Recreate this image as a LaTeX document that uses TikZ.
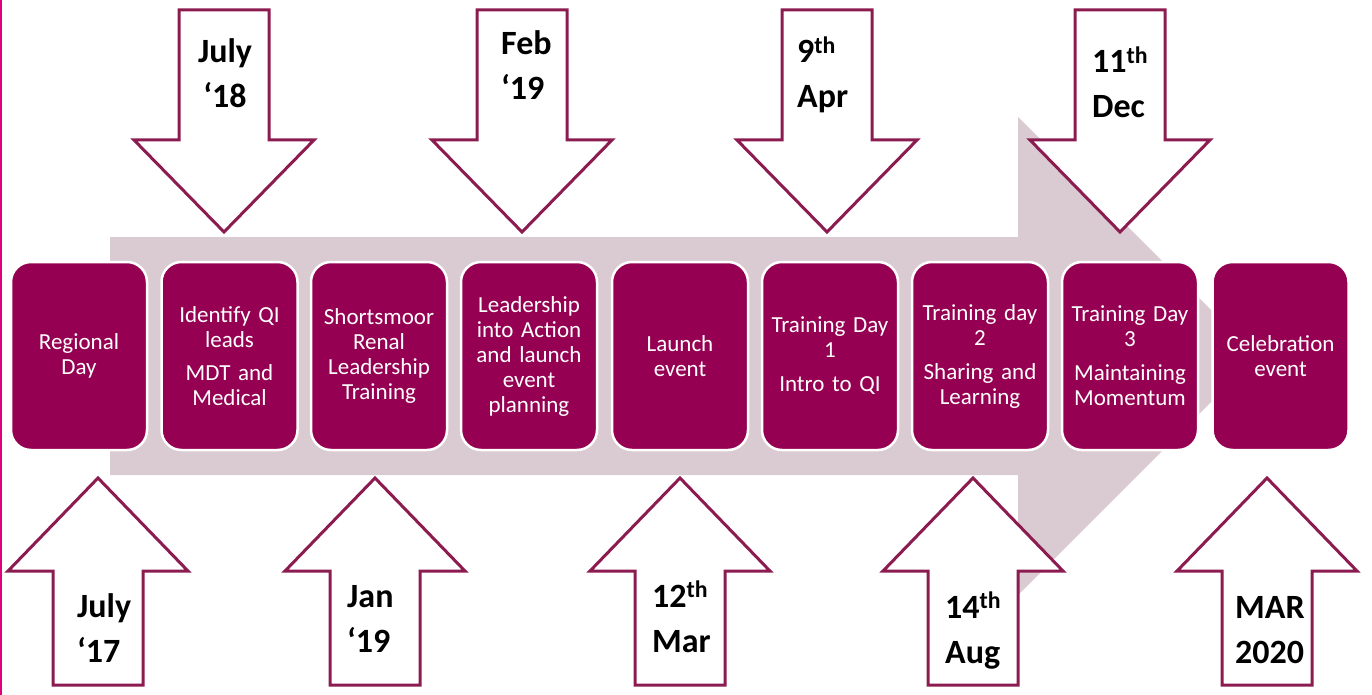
\documentclass[tikz,border=0pt]{standalone}
\usepackage{fontspec}
\setmainfont{Carlito}
\definecolor{boxfill}{HTML}{950052}
\definecolor{bandfill}{HTML}{DACBD2}
\definecolor{calloutline}{HTML}{8C1C50}
\definecolor{edgeline}{HTML}{E0007A}
\begin{document}
\begin{tikzpicture}[x=1pt,y=-1pt,
  stagebox/.style={draw=white, line width=2.5pt, fill=boxfill, rounded corners=20pt,
    minimum width=136pt, minimum height=188pt, inner sep=0pt, text=white,
    align=center, text width=134pt, font=\fontsize{23}{25}\selectfont},
  datelabel/.style={font=\fontsize{34}{45}\selectfont\bfseries, align=left,
    anchor=base west, inner sep=0pt},
  callout/.style={draw=calloutline, line width=3pt, fill=white, line join=miter},
  downarr/.pic={\draw[callout] (-45,0) -- (45,0) -- (45,130) -- (90,130) -- (0,222)
    -- (-90,130) -- (-45,130) -- cycle;},
  uparr/.pic={\draw[callout] (0,0) -- (90,93) -- (45,93) -- (45,207) -- (-45,207)
    -- (-45,93) -- (-90,93) -- cycle;}]
\useasboundingbox (0,0) rectangle (1372,695);
% left edge line
\draw[edgeline, line width=2pt] (1,0) -- (1,695);
% background band arrow
\fill[bandfill] (110,237) -- (1018,237) -- (1018,117) -- (1257,356) -- (1018,595)
  -- (1018,475) -- (110,475) -- cycle;
% stage boxes
\node[stagebox] (b1) at (79,356) {Regional\\Day};
\node[stagebox] (b2) at (229.5,356) {Identify QI\\leads\\[8pt]MDT and\\Medical};
\node[stagebox] (b3) at (379,356) {Shortsmoor\\Renal\\Leadership\\Training};
\node[stagebox] (b4) at (529,356) {Leadership\\into Action\\and launch\\event\\planning};
\node[stagebox] (b5) at (680,356) {Launch\\event};
\node[stagebox] (b6) at (830,356) {Training Day\\1\\[9pt]Intro to QI};
\node[stagebox] (b7) at (980,356) {Training day\\2\\[9pt]Sharing and\\Learning};
\node[stagebox] (b8) at (1130,356) {Training Day\\3\\[9pt]Maintaining\\Momentum};
\node[stagebox] (b9) at (1280.5,356) {Celebration\\event};
% top callout arrows
\pic at (224,10) {downarr};
\pic at (522,10) {downarr};
\pic at (827,10) {downarr};
\pic at (1120,10) {downarr};
% bottom callout arrows
\pic at (98,478) {uparr};
\pic at (375,478) {uparr};
\pic at (680,478) {uparr};
\pic at (973,478) {uparr};
\pic at (1267,478) {uparr};
% date labels (anchor = baseline of last line, left edge)
\node[datelabel, align=center, anchor=base] (d1) at (225,108) {July\\‘18};
\node[datelabel] (d2) at (501,100) {Feb\\‘19};
\node[datelabel] (d3) at (797,108) {9\textsuperscript{th}\\Apr};
\node[datelabel] (d4) at (1092,118) {11\textsuperscript{th}\\Dec};
\node[datelabel] (u1) at (77,662) {July\\‘17};
\node[datelabel] (u2) at (347,652) {Jan\\‘19};
\node[datelabel] (u3) at (652,652) {12\textsuperscript{th}\\Mar};
\node[datelabel] (u4) at (945,663) {14\textsuperscript{th}\\Aug};
\node[datelabel] (u5) at (1235,663) {MAR\\2020};
\end{tikzpicture}
\end{document}
